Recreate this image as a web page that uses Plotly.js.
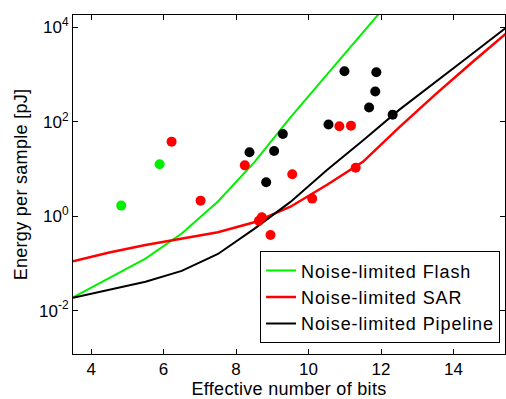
<!DOCTYPE html>
<html>
<head>
<meta charset="utf-8">
<script src="https://cdn.plot.ly/plotly-3.0.1.min.js"></script>
<style>
html,body{margin:0;padding:0;background:#fff;}
#chart{width:506px;height:399px;}
.legendtext{letter-spacing:0.9px;}
.xtitle,.ytitle{letter-spacing:0.3px;}
</style>
</head>
<body>
<div id="chart"></div>
<script>
// Model curves (ENOB vs energy per sample, pJ)
const flashEnob = [3.5, 4.5, 5.5, 6.5, 7.5, 8.5, 9.5, 10.5, 11.5, 12.5];
const flashEnergy = [0.0191, 0.049, 0.126, 0.427, 2.04, 13.8, 123, 977, 7762, 61660];
const sarEnob = [3.5, 4.5, 5.5, 6.5, 7.5, 8.5, 9.5, 10.5, 11.5, 12.5, 13.5, 14.5, 15.5];
const sarEnergy = [0.110, 0.170, 0.245, 0.339, 0.457, 0.741, 1.58, 4.57, 14.1, 75.9, 380, 1778, 7943];
const pipeEnob = [3.5, 5.5, 6.5, 7.5, 8.5, 9.5, 10.5, 11.5, 12.5, 13.5, 14.5, 15.5];
const pipeEnergy = [0.0186, 0.0407, 0.0692, 0.158, 0.537, 2.0, 9.33, 39.8, 178, 708, 2692, 10471];

// Published designs
const flashPtsX = [4.83, 5.89];
const flashPtsY = [1.67, 12.6];
const sarPtsX = [6.22, 7.02, 8.24, 8.63, 8.71, 8.95, 9.55, 10.10, 10.85, 11.17, 11.30];
const sarPtsY = [37.8, 2.13, 11.9, 0.80, 0.95, 0.40, 7.7, 2.35, 80, 82.5, 10.6];
const pipePtsX = [8.37, 8.83, 9.05, 9.29, 10.55, 10.99, 11.87, 11.84, 11.67, 12.32];
const pipePtsY = [22.6, 5.2, 24, 55, 87, 1170, 1115, 437, 200, 141];

const names = ['Noise-limited Flash', 'Noise-limited SAR', 'Noise-limited Pipeline'];
const xTicks = [4, 6, 8, 10, 12, 14];
const yTickVals = [0.01, 1, 100, 10000];
const yTickText = ['10<sup>-2</sup>', '10<sup>0</sup>', '10<sup>2</sup>', '10<sup>4</sup>'];

const GREEN = '#00f000', RED = '#ff0000', BLACK = '#000000';

const traces = [
  {x: flashEnob, y: flashEnergy, mode: 'lines', name: names[0], line: {color: GREEN, width: 2}},
  {x: sarEnob, y: sarEnergy, mode: 'lines', name: names[1], line: {color: RED, width: 2.5}},
  {x: pipeEnob, y: pipeEnergy, mode: 'lines', name: names[2], line: {color: BLACK, width: 2}},
  {x: flashPtsX, y: flashPtsY, mode: 'markers', showlegend: false, marker: {color: GREEN, size: 10}},
  {x: sarPtsX, y: sarPtsY, mode: 'markers', showlegend: false, marker: {color: RED, size: 10}},
  {x: pipePtsX, y: pipePtsY, mode: 'markers', showlegend: false, marker: {color: BLACK, size: 10}}
];

const FONT = 'Liberation Sans, Arial, sans-serif';

const layout = {
  width: 506, height: 399,
  margin: {l: 73, r: 1, t: 15, b: 45},
  paper_bgcolor: '#fff', plot_bgcolor: '#fff',
  font: {family: FONT, size: 17, color: '#000'},
  showlegend: true,
  legend: {
    x: 0.433, y: 0.167, xanchor: 'left', yanchor: 'middle',
    bgcolor: '#fff', bordercolor: '#000', borderwidth: 1,
    font: {family: FONT, size: 18, color: '#000'},
    tracegroupgap: 0
  },
  xaxis: {
    range: [3.5, 15.42],
    tickvals: xTicks,
    ticks: 'inside', ticklen: 5, tickcolor: '#000',
    showline: true, linecolor: '#000', linewidth: 1, mirror: 'ticks',
    showgrid: false, zeroline: false,
    tickfont: {family: FONT, size: 17},
    title: {text: 'Effective number of bits', font: {family: FONT, size: 18}, standoff: 12}
  },
  yaxis: {
    type: 'log',
    range: [-2.92, 4.26],
    tickvals: yTickVals, ticktext: yTickText,
    ticks: 'inside', ticklen: 5, tickcolor: '#000',
    showline: true, linecolor: '#000', linewidth: 1, mirror: 'ticks',
    showgrid: false, zeroline: false,
    tickfont: {family: FONT, size: 17},
    title: {text: 'Energy per sample [pJ]', font: {family: FONT, size: 18}, standoff: 6}
  }
};

Plotly.newPlot('chart', traces, layout, {displayModeBar: false, staticPlot: true});
</script>
</body>
</html>
